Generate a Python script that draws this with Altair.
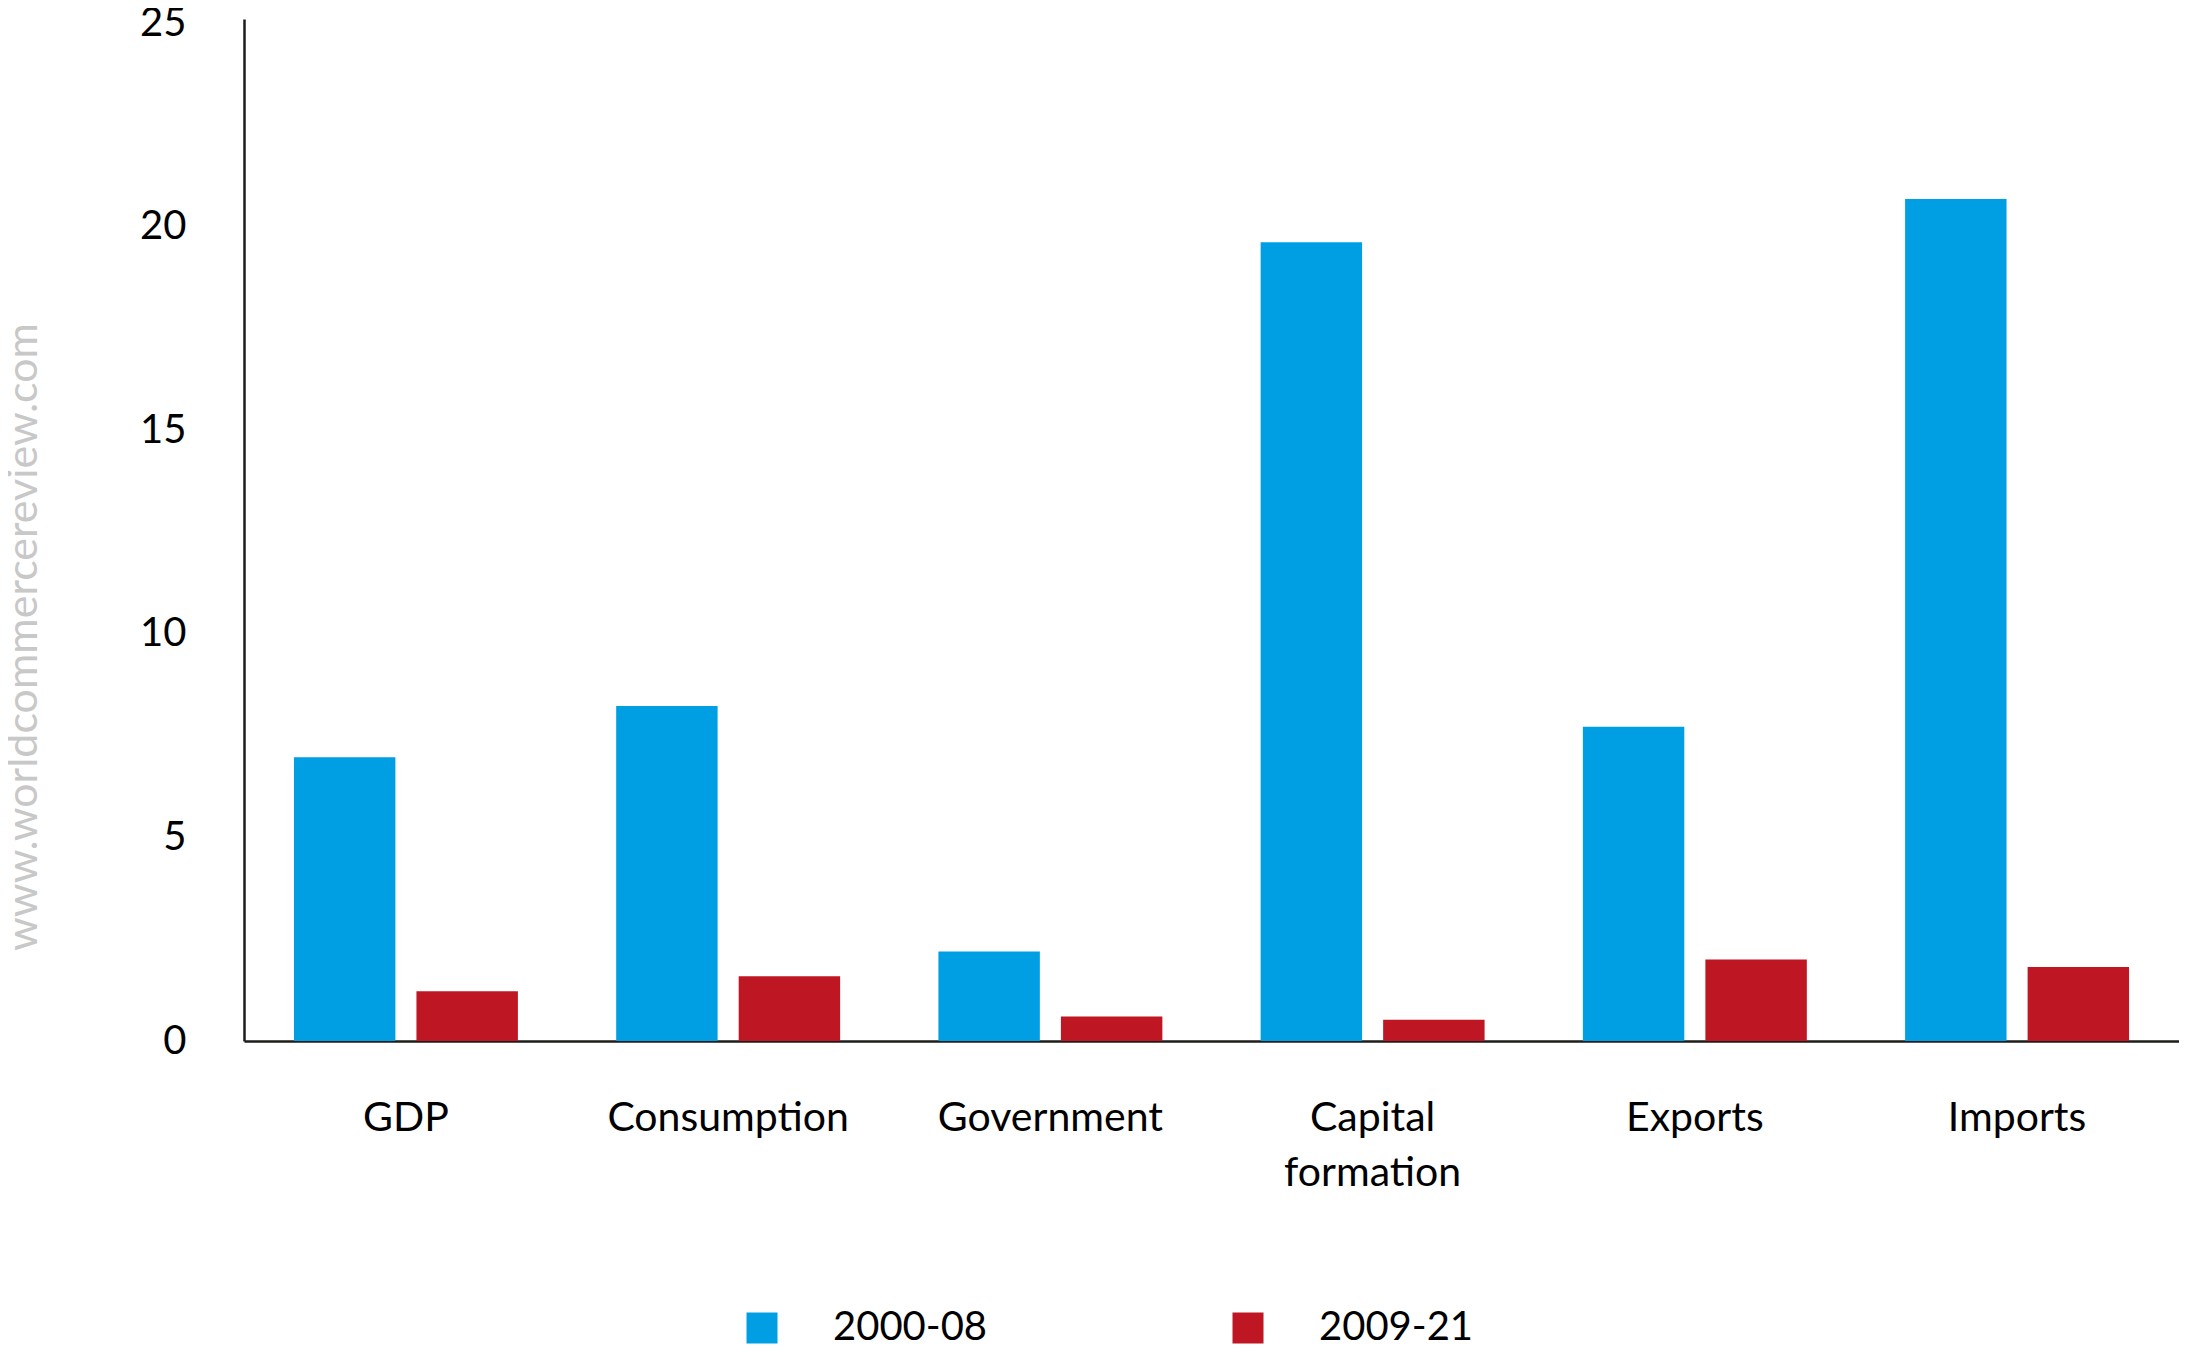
import altair as alt
import pandas as pd

categories = ["GDP", "Consumption", "Government", "Capital formation", "Exports", "Imports"]
series = ["2000-08", "2009-21"]
values_2000_08 = [6.97, 8.23, 2.20, 19.62, 7.72, 20.68]
values_2009_21 = [1.22, 1.59, 0.60, 0.52, 2.00, 1.82]
y_ticks = [0, 5, 10, 15, 20, 25]
colors = ["#009fe3", "#be1622"]
watermark = "www.worldcommercereview.com"

rows = []
for c, a, b in zip(categories, values_2000_08, values_2009_21):
    rows.append({"category": c, "period": series[0], "value": a})
    rows.append({"category": c, "period": series[1], "value": b})
df = pd.DataFrame(rows)

FONT = "Lato"

bars = alt.Chart(df).mark_bar().encode(
    x=alt.X(
        "category:N",
        sort=categories,
        scale=alt.Scale(paddingInner=0.305, paddingOuter=0.155),
        axis=alt.Axis(
            title=None,
            labelAngle=0,
            ticks=False,
            domain=True,
            domainColor="#1d1d1b",
            domainWidth=2.5,
            labelFont=FONT,
            labelFontSize=41,
            labelColor="#000000",
            labelPadding=57,
            labelLineHeight=55,
            labelLimit=0,
            labelExpr="datum.label == 'Capital formation' ? ['Capital', 'formation'] : datum.label",
        ),
    ),
    xOffset=alt.XOffset("period:N", sort=series, scale=alt.Scale(paddingInner=0.172)),
    y=alt.Y(
        "value:Q",
        scale=alt.Scale(domain=[0, 25.1], nice=False),
        axis=alt.Axis(
            title=None,
            values=y_ticks,
            ticks=False,
            grid=False,
            domain=True,
            domainColor="#1d1d1b",
            domainWidth=2.5,
            labelFont=FONT,
            labelFontSize=40,
            labelColor="#000000",
            labelPadding=58,
        ),
    ),
    color=alt.Color(
        "period:N",
        sort=series,
        scale=alt.Scale(domain=series, range=colors),
        legend=alt.Legend(
            title=None,
            orient="none",
            direction="horizontal",
            legendX=498,
            legendY=1289,
            symbolType="square",
            symbolSize=961,
            symbolStrokeWidth=0,
            labelFont=FONT,
            labelFontSize=40,
            labelColor="#000000",
            labelOffset=51,
            columnPadding=240,
            padding=0,
        ),
    ),
)

wm = alt.Chart(pd.DataFrame({"t": [watermark]})).mark_text(
    angle=270,
    align="center",
    baseline="alphabetic",
    font=FONT,
    fontSize=43,
    color="#c8c8c8",
).encode(
    text="t:N",
    x=alt.value(-207),
    y=alt.value(618),
)

chart = alt.layer(bars, wm).properties(
    width=1935,
    height=1022,
    autosize=alt.AutoSizeParams(type="none"),
    padding={"left": 236, "top": 11, "right": 0, "bottom": 308},
    background="#ffffff",
).configure_view(strokeWidth=0)

chart.save("out.html", embed_options={"renderer": "svg", "actions": False})
